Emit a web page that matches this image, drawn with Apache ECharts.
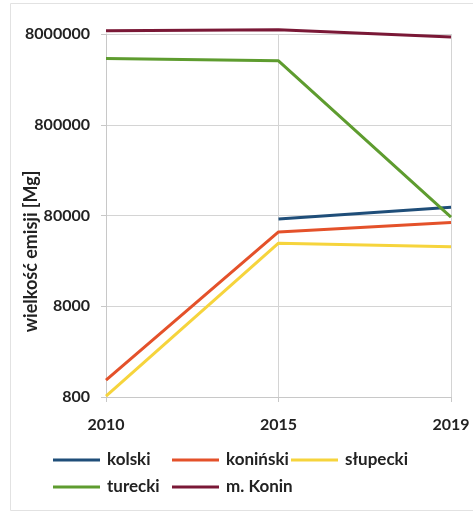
<!DOCTYPE html>
<html><head><meta charset="utf-8">
<script src="https://cdn.jsdelivr.net/npm/echarts@6/dist/echarts.min.js"></script>
<style>html,body{margin:0;padding:0;background:#fff}#c{width:473px;height:513px}</style>
</head><body><div id="c"></div>
<script>
const years = ['2010', '2015', '2019'];
const kolski = [null, 73400, 98700];
const koninski = [1230, 52700, 66900];
const slupecki = [820, 39600, 36300];
const turecki = [4290000, 4050000, 76600];
const mKonin = [8670000, 8900000, 7400000];
const seriesNames = ['kolski', 'koniński', 'słupecki', 'turecki', 'm. Konin'];
const seriesColors = ['#1f4e79', '#e4512a', '#f6d43c', '#5e9c2f', '#7a1836'];
const yBase = 800;

const toLog = v => v == null ? null : Math.log10(v / yBase);
const allData = [kolski, koninski, slupecki, turecki, mKonin];
const font = 'Lato';

const chart = echarts.init(document.getElementById('c'));
chart.setOption({
  animation: false,
  backgroundColor: '#fff',
  graphic: [{type: 'rect', shape: {x: 10.5, y: 3.5, width: 470, height: 507}, style: {fill: 'none', stroke: '#e2e2e2', lineWidth: 1}, silent: true, z: -1}],
  grid: {left: 106, right: 22, top: 34, bottom: 116, outerBoundsMode: 'none', containLabel: false},
  xAxis: {
    type: 'category', data: years, boundaryGap: false,
    axisLine: {lineStyle: {color: '#c8c8c8', width: 1}},
    axisTick: {show: true, length: 5, lineStyle: {color: '#c8c8c8'}},
    splitLine: {show: true, lineStyle: {color: '#d4d4d4', width: 1}},
    axisLabel: {color: '#222', fontFamily: font, fontWeight: 'bold', fontSize: 16, margin: 20}
  },
  yAxis: {
    type: 'value', min: 0, max: 4, interval: 1,
    name: 'wielkość emisji [Mg]', nameLocation: 'middle', nameGap: 66, nameRotate: 90, nameMoveOverlap: false,
    nameTextStyle: {color: '#222', fontFamily: font, fontWeight: 'bold', fontSize: 18, padding: [0, 72, 0, 0]},
    axisLine: {show: true, lineStyle: {color: '#c8c8c8', width: 1}},
    axisTick: {show: true, length: 5, lineStyle: {color: '#c8c8c8'}},
    splitLine: {show: true, lineStyle: {color: '#d4d4d4', width: 1}},
    axisLabel: {color: '#222', fontFamily: font, fontWeight: 'bold', fontSize: 16, margin: 16,
      formatter: v => String(Math.round(yBase * Math.pow(10, v)))}
  },
  legend: {
    data: seriesNames, left: 48, top: 442, width: 370, orient: 'horizontal',
    itemWidth: 47, itemHeight: 3, itemGap: 1,
    icon: 'rect',
    textStyle: {color: '#222', fontFamily: font, fontWeight: 'bold', fontSize: 17, width: 64, lineHeight: 26, padding: [0, 0, 0, 2]}
  },
  series: allData.map((d, i) => ({
    name: seriesNames[i], type: 'line', data: d.map(toLog), clip: false,
    symbol: 'none', lineStyle: {width: 3, color: seriesColors[i]},
    itemStyle: {color: seriesColors[i]}
  }))
});
</script></body></html>
